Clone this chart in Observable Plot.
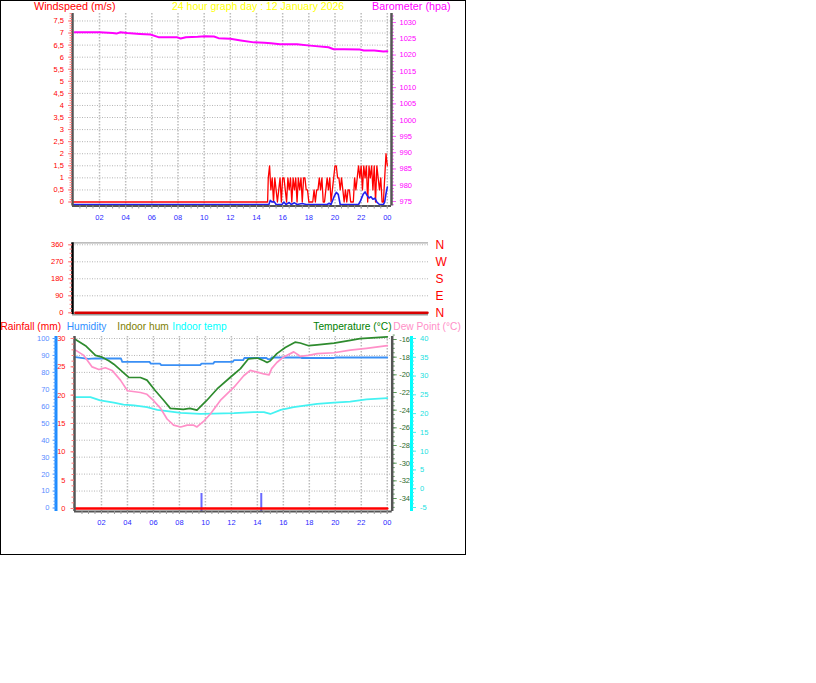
<!DOCTYPE html>
<html>
<head>
<meta charset="utf-8">
<script src="https://cdn.jsdelivr.net/npm/d3@7"></script>
<script src="https://cdn.jsdelivr.net/npm/@observablehq/plot@0.6"></script>
<style>
  html, body { margin: 0; padding: 0; background: #fff; }
  #root { position: absolute; left: 0; top: 0; width: 816px; height: 683px; }
  #box { position: absolute; left: 0; top: 0; width: 464px; height: 553px; border: 1px solid #000; }
</style>
</head>
<body>
<div id="root"><div id="box"></div></div>
<script>
// ---------------- data ----------------
const hourTicks = [2, 4, 6, 8, 10, 12, 14, 16, 18, 20, 22, 24];
const windTicks = [0, 0.5, 1, 1.5, 2, 2.5, 3, 3.5, 4, 4.5, 5, 5.5, 6, 6.5, 7, 7.5];
const baroTicks = [975, 980, 985, 990, 995, 1000, 1005, 1010, 1015, 1020, 1025, 1030];
const dirTicks = [0, 90, 180, 270, 360];
const dirLabels = ["N", "E", "S", "W", "N"];
const rainTicks = [0, 5, 10, 15, 20, 25, 30];
const humTicks = [0, 10, 20, 30, 40, 50, 60, 70, 80, 90, 100];
const tempTicks = [-34, -32, -30, -28, -26, -24, -22, -20, -18, -16];
const indoorTicks = [-5, 0, 5, 10, 15, 20, 25, 30, 35, 40];

// wind gust (m/s): calm until 14.85 h, then sampled every 0.1 h from 14.9 h
const gustCalm = [[0, 0], [14.85, 0]];
const gustStart = 14.9, gustStep = 0.1;
const gustValues = [
  1, 1.5, 0.5, 1, 0, 1, 0.5, 0, 0.5, 1,
  0, 1, 1, 0.5, 0, 1, 0.5, 1, 0, 1,
  0.5, 1, 0, 1, 0.5, 1, 0, 1, 1, 0.5,
  0.5, 0, 0, 0, 0, 0.5, 0, 0.5, 0.5, 1,
  0.5, 1, 0, 0, 0.5, 1, 0.5, 1, 0, 0.5,
  1, 1.5, 1.5, 1, 1, 0.5, 1, 0.5, 0, 0.5,
  0, 0.5, 0.5, 0, 0, 0, 1, 0.5, 1, 1.5,
  1, 1.5, 0.5, 1.5, 1, 1.5, 0, 1.5, 1, 1.5,
  0.5, 1.5, 0, 1.5, 1, 0.5, 1, 0, 0, 1,
  2, 1.5
];
// average wind speed (m/s) [hour, value]
const avgWind = [[0,0],[14.95,0],[15.05,0.17],[15.2,0.1],[15.35,0.12],[15.5,0],[15.95,0],[16.1,0.1],[16.25,0],
  [16.5,0.08],[16.65,0],[16.9,0.07],[17.1,0],[17.5,0.04],[17.8,0],[19.4,0],[19.55,0.05],[19.7,0],
  [19.95,0.35],[20.1,0.5],[20.25,0.42],[20.4,0],[21.8,0],[21.95,0.15],[22.15,0.42],[22.3,0.52],
  [22.45,0.38],[22.6,0.27],[22.75,0.32],[22.9,0.22],[23.05,0.26],[23.2,0.1],[23.4,0],[23.7,0],
  [23.8,0.1],[23.9,0.45],[24.0,0.72]];
// barometer (hPa) [hour, value]
const pressure = [[0.1,1027.0],[1,1027.0],[2,1027.0],[3.0,1026.8],[3.3,1026.6],[3.6,1027.0],[4.1,1026.8],
  [5.1,1026.5],[5.9,1026.3],[6.5,1025.5],[7.9,1025.5],[8.2,1025.1],[8.6,1025.5],[9.5,1025.6],[10.1,1025.8],
  [10.75,1025.7],[11.1,1025.2],[12.0,1025.0],[12.8,1024.5],[13.8,1023.9],[14.6,1023.8],[15.1,1023.6],
  [15.8,1023.3],[17.1,1023.3],[18.1,1022.9],[19.5,1022.4],[19.9,1021.8],[20.7,1021.8],[21.9,1021.7],
  [22.2,1021.4],[23.0,1021.4],[23.7,1021.1],[24,1021.2]];
// wind direction (deg)
const windDir = [[0,0],[24,0]];
// rainfall (mm)
const rain = [[0,0],[24,0]];
const rainSpikes = [[9.7,2.65],[14.3,2.65]];
// humidity (%)
const humidity = [[0,89],[1.0,88],[1.5,88.3],[3.5,88.2],[3.6,86.2],[5.7,86.2],[5.8,85.2],[6.5,85.2],
  [6.6,84.3],[9.6,84.3],[9.7,85.2],[10.6,85.2],[10.7,86.2],[12.1,86.2],[12.2,87.2],[12.9,87.2],
  [13.0,88.5],[14.7,88.5],[14.8,87.8],[15.0,87.8],[15.1,88.8],[17.3,88.8],[17.4,88.5],[19.9,88.5],
  [20,88.8],[24,88.8]];
// temperature (°C)
const temperature = [[0,-16.0],[0.77,-16.7],[1.54,-17.8],[2.05,-18.0],[2.56,-18.4],[2.95,-18.8],[4.1,-20.3],
  [5.0,-20.3],[5.5,-20.6],[6.15,-21.8],[6.8,-22.9],[7.3,-23.8],[8.3,-23.9],[8.8,-23.8],[9.35,-24.0],
  [10.1,-22.9],[10.9,-21.6],[11.9,-20.3],[12.7,-19.3],[13.3,-18.2],[14.0,-18.1],[14.5,-18.4],[14.75,-18.6],
  [15.0,-18.4],[15.5,-17.6],[16.15,-16.9],[16.9,-16.3],[17.3,-16.4],[17.95,-16.7],[18.6,-16.6],
  [19.9,-16.4],[21.15,-16.1],[21.9,-15.9],[24,-15.7]];
// dew point (°C)
const dewPoint = [[0,-17.2],[0.64,-17.8],[1.28,-19.1],[1.8,-19.4],[2.3,-19.2],[2.82,-19.5],[3.46,-20.6],
  [4.0,-21.8],[5.0,-22.0],[5.5,-22.2],[6.0,-22.9],[6.55,-23.8],[7.05,-25.0],[7.55,-25.7],[8.1,-25.9],
  [8.6,-25.7],[9.1,-25.7],[9.35,-25.9],[9.9,-25.2],[10.4,-24.4],[11.15,-22.9],[12.2,-21.4],[12.95,-20.1],
  [13.45,-19.5],[14.0,-19.7],[14.5,-19.9],[14.9,-20.0],[15.1,-19.3],[15.5,-18.6],[16.0,-18.0],
  [16.8,-17.4],[17.3,-17.9],[17.95,-17.8],[18.6,-17.6],[19.9,-17.5],[21.15,-17.2],[22.4,-17.0],[24,-16.7]];
// indoor temperature (°C)
const indoorTemp = [[0,24.4],[1.15,24.4],[1.9,23.5],[2.95,22.9],[3.7,22.4],[4.5,22.2],[5.5,21.7],[6.3,21.0],
  [8.1,20.2],[9.6,19.9],[10.6,20.0],[12.2,20.1],[13.7,20.4],[14.5,20.4],[15.0,19.9],[15.8,21.0],
  [16.8,21.7],[18.6,22.6],[19.9,22.9],[21.15,23.2],[22.4,23.8],[24,24.1]];

// ---------------- rendering ----------------
const FONT = '"Liberation Sans", Arial, sans-serif';
const W = 466, H = 555;
const root = document.getElementById("root");
const P = a => a.map(([h, v]) => ({h, v}));
const gust = P(gustCalm).concat(gustValues.map((v, i) => ({h: gustStart + i * gustStep, v})));
const hourFmt = h => String(h % 24).padStart(2, "0");
const plain = d => String(d);
const dotted = {stroke: "#b4b4b4", strokeOpacity: 1, strokeDasharray: "1,1.5", strokeWidth: 1};
const dottedV = {stroke: "#bcbcbc", strokeOpacity: 1, strokeDasharray: "1.5,1.5", strokeWidth: 1.5};
const step = (a, b, s) => d3.range(a, b + s / 2, s);

// panel geometry (pixel edges of the plotting areas)
const G1 = {l: 72, r: 391, t: 13, b: 205.5, x: [-0.065, 24.32]};
const G2 = {l: 72, r: 428, t: 242.3, b: 314, x: [-0.2, 24.07]};
const G3 = {l: 74, r: 391.7, t: 336, b: 511, x: [-0.077, 24.38]};
const windDom = [-0.166, 7.81], baroDom = [973.62, 1032.77], dirDom = [-9.0, 370.6];
const rainDom = [-0.53, 30.35], humDom = [-2.06, 101.18], tempDom = [-35.47, -15.66], indoorDom = [-6.07, 40.53];

function layer(g, yDom, marks) {
  const svg = Plot.plot({
    width: W, height: H,
    marginLeft: g.l, marginRight: W - g.r, marginTop: g.t, marginBottom: H - g.b,
    x: {domain: g.x, axis: null, label: null},
    y: {domain: yDom, axis: null, label: null},
    style: {position: "absolute", left: "0px", top: "0px", background: "transparent",
            fontFamily: FONT, fontSize: "7.5px", overflow: "visible", maxWidth: "none"},
    marks
  });
  root.appendChild(svg);
}
function xAxes(yPad) {
  return [
    Plot.axisX(step(0.5, 24, 0.5), {anchor: "bottom", tickSize: 3, stroke: "#9a9a9a", fill: "none", label: null}),
    Plot.axisX(hourTicks, {anchor: "bottom", tickSize: 3, tickPadding: yPad, stroke: "#9a9a9a", fill: "#2a2aff",
      fontSize: 7.5, tickFormat: hourFmt, label: null})
  ];
}

// ---- panel 1: wind speed + barometer ----
layer(G1, windDom, [
  Plot.gridY(windTicks.slice(1), dotted),
  Plot.gridX(hourTicks, dottedV)
]);
layer(G1, baroDom, [
  Plot.line(P(pressure), {x: "h", y: "v", stroke: "#ff00ff", strokeWidth: 2}),
  Plot.axisY(step(974, 1032, 1), {anchor: "right", tickSize: 2, stroke: "#ff66ff", fill: "none", label: null}),
  Plot.axisY(baroTicks, {anchor: "right", tickSize: 4, tickPadding: 4, stroke: "#ff66ff", fill: "#ff00ff",
    fontSize: 7.5, tickFormat: plain, label: null})
]);
layer(G1, windDom, [
  Plot.line(gust, {x: "h", y: "v", stroke: "#ff0000", strokeWidth: 1.3}),
  Plot.line(P(avgWind), {x: "h", y: "v", stroke: "#2020ee", strokeWidth: 1.6, dy: 2.5}),
  Plot.ruleX([G1.x[0]], {stroke: "#555", strokeWidth: 2.5}),
  Plot.ruleX([G1.x[1]], {stroke: "#555", strokeWidth: 2.5}),
  Plot.ruleY([windDom[0]], {stroke: "#555", strokeWidth: 2}),
  Plot.axisY(step(0, 7.8, 0.1), {anchor: "left", tickSize: 2.5, stroke: "#ff7a7a", fill: "none", label: null}),
  Plot.axisY(windTicks, {anchor: "left", tickSize: 4, tickPadding: 4.5, stroke: "#ff7a7a", fill: "#ff0000",
    fontSize: 7.5, tickFormat: d => String(d).replace(".", ","), label: null}),
  ...xAxes(5.5)
]);

// ---- panel 2: wind direction ----
layer(G2, dirDom, [
  Plot.gridY([90, 180, 270, 360], dotted),
  Plot.ruleY([dirDom[1]], {stroke: "#a8a8a8", strokeWidth: 1.2}),
  Plot.ruleY([dirDom[0]], {stroke: "#999", strokeWidth: 2}),
  Plot.line(P(windDir), {x: "h", y: "v", stroke: "#d80000", strokeWidth: 2.5}),
  Plot.ruleX([G2.x[0]], {stroke: "#000", strokeWidth: 2.5}),
  Plot.axisY(step(0, 360, 22.5), {anchor: "left", tickSize: 2.5, stroke: "#ff7a7a", fill: "none", label: null}),
  Plot.axisY(dirTicks, {anchor: "left", tickSize: 4, tickPadding: 5, stroke: "#ff7a7a", fill: "#ff0000",
    fontSize: 7.5, tickFormat: plain, label: null}),
  Plot.axisY(dirTicks, {anchor: "right", tickSize: 0, tickPadding: 7, fill: "#ff0000", fontSize: 12,
    tickFormat: d => dirLabels[dirTicks.indexOf(d)], label: null})
]);

// ---- panel 3: rain, humidity, temperatures ----
layer(G3, humDom, [
  Plot.gridY(humTicks.slice(1), dotted),
  Plot.gridX(hourTicks, dottedV)
]);
layer(G3, indoorDom, [
  Plot.line(P(indoorTemp), {x: "h", y: "v", stroke: "#44f2f2", strokeWidth: 1.8})
]);
layer(G3, humDom, [
  Plot.line(P(humidity), {x: "h", y: "v", stroke: "#3a8ff5", strokeWidth: 1.8})
]);
layer(G3, tempDom, [
  Plot.line(P(dewPoint), {x: "h", y: "v", stroke: "#ff90c8", strokeWidth: 1.7}),
  Plot.line(P(temperature), {x: "h", y: "v", stroke: "#2e8b2e", strokeWidth: 1.7}),
  Plot.axisY(step(-35, -15.7, 0.5), {anchor: "right", tickSize: 2, stroke: "#5a9a5a", fill: "none", label: null}),
  Plot.axisY(tempTicks, {anchor: "right", tickSize: 4, tickPadding: 3, stroke: "#5a9a5a", fill: "#2e6b2e",
    fontSize: 7.5, tickFormat: plain, label: null})
]);
layer(G3, rainDom, [
  Plot.ruleX(P(rainSpikes), {x: "h", y1: rainDom[0], y2: "v", stroke: "#6a6aff", strokeWidth: 2}),
  Plot.line(P(rain), {x: "h", y: "v", stroke: "#ff0000", strokeWidth: 2.5}),
  Plot.ruleX([G3.x[0]], {stroke: "#555", strokeWidth: 2.5}),
  Plot.ruleX([G3.x[1]], {stroke: "#555", strokeWidth: 2.5}),
  Plot.ruleY([rainDom[0]], {stroke: "#555", strokeWidth: 2}),
  Plot.axisY(step(0, 30, 1), {anchor: "left", tickSize: 2.5, stroke: "#ff7a7a", fill: "none", label: null}),
  Plot.axisY(rainTicks, {anchor: "left", tickSize: 3.5, tickPadding: 5.5, stroke: "#ff7a7a", fill: "#ff1010",
    fontSize: 7.5, tickFormat: plain, label: null}),
  ...xAxes(5.3)
]);
// humidity axis (left, outside)
layer({l: 55.5, r: 391.7, t: G3.t, b: G3.b, x: [0, 1]}, humDom, [
  Plot.ruleX([0], {y1: humDom[0], y2: humDom[1], stroke: "#1e8cff", strokeWidth: 3}),
  Plot.axisY(step(0, 100, 2), {anchor: "left", tickSize: 2, stroke: "#5aa0ff", fill: "none", label: null}),
  Plot.axisY(humTicks, {anchor: "left", tickSize: 3, tickPadding: 3.5, stroke: "#5aa0ff", fill: "#5a8cff",
    fontSize: 7.5, tickFormat: plain, label: null})
]);
// indoor temperature axis (right, outside)
layer({l: G3.l, r: 411, t: G3.t, b: G3.b, x: [0, 1]}, indoorDom, [
  Plot.ruleX([1], {y1: indoorDom[0], y2: indoorDom[1], stroke: "#00ffff", strokeWidth: 3}),
  Plot.axisY(step(-5, 40, 1), {anchor: "right", tickSize: 2, stroke: "#40f0f0", fill: "none", label: null}),
  Plot.axisY(indoorTicks, {anchor: "right", tickSize: 4, tickPadding: 4.5, stroke: "#40f0f0", fill: "#22e0e0",
    fontSize: 7.5, tickFormat: plain, label: null})
]);

// ---- titles and legend texts ----
function label(text, x, baseline, color, size) {
  const d = document.createElement("div");
  d.textContent = text;
  d.style.cssText = `position:absolute;left:${x}px;top:${baseline - 0.8465 * size}px;font-size:${size}px;` +
    `font-family:${FONT};line-height:1;color:${color};white-space:nowrap;`;
  root.appendChild(d);
}
label("Windspeed (m/s)", 34, 10, "#ff0000", 10.8);
label("24 hour graph day : 12 January 2026", 172, 10, "#ffff00", 10.5);
label("Barometer (hpa)", 372, 10, "#ff00ff", 10.8);
label("Rainfall (mm)", 0.5, 331, "#ff0000", 10.2);
label("Humidity", 66.7, 331, "#2f8fff", 10.2);
label("Indoor hum", 117.3, 331, "#808000", 10.2);
label("Indoor temp", 172.3, 331, "#00ffff", 10.2);
label("Temperature (°C)", 313.3, 331, "#008000", 10.2);
label("Dew Point (°C)", 393.3, 331, "#ff90c8", 10.2);
</script>
</body>
</html>
